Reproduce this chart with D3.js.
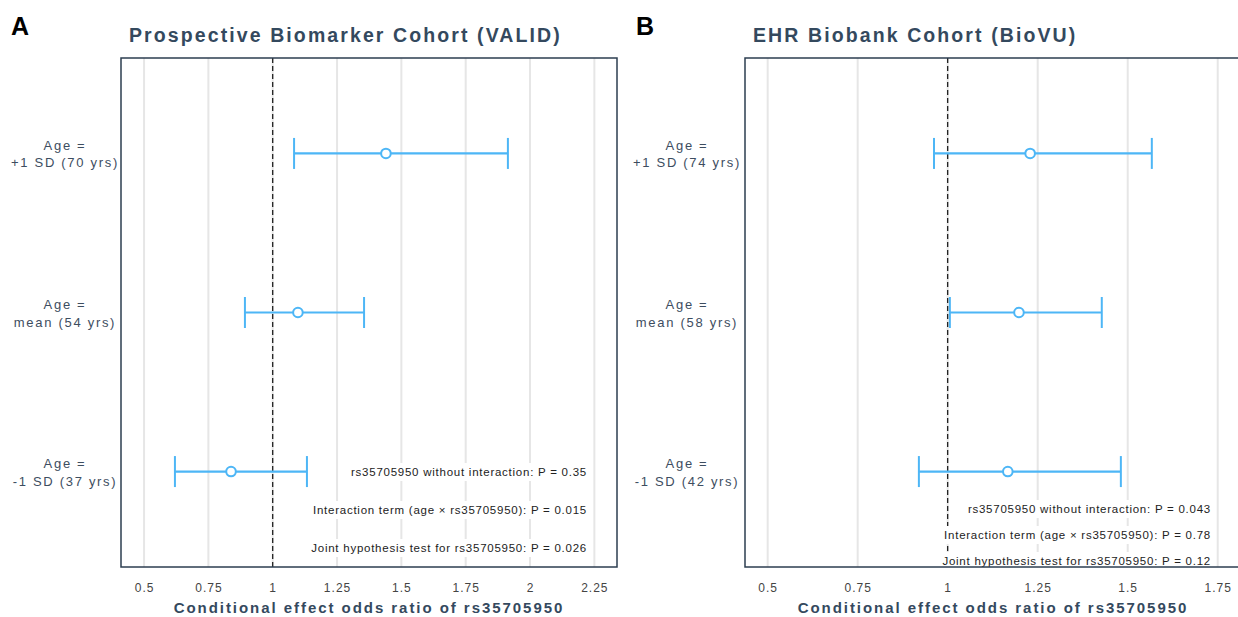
<!DOCTYPE html>
<html><head><meta charset="utf-8">
<script src="https://cdn.jsdelivr.net/npm/d3@7"></script>
<style>body{margin:0;background:#fff}svg{display:block}</style>
</head><body>
<svg id="c" width="1238" height="617"></svg>
<script>
const categories = ["+1 SD", "mean", "-1 SD"];
const rowLabelsA = ["+1 SD (70 yrs)", "mean (54 yrs)", "-1 SD (37 yrs)"];
const rowLabelsB = ["+1 SD (74 yrs)", "mean (58 yrs)", "-1 SD (42 yrs)"];
const orA = [1.440, 1.098, 0.838];
const loA = [1.083, 0.892, 0.620];
const hiA = [1.914, 1.355, 1.133];
const orB = [1.229, 1.198, 1.167];
const loB = [0.962, 1.006, 0.920];
const hiB = [1.567, 1.428, 1.481];
const ticksA = [0.5, 0.75, 1, 1.25, 1.5, 1.75, 2, 2.25];
const ticksB = [0.5, 0.75, 1, 1.25, 1.5, 1.75];
const notesA = ["rs35705950 without interaction: P = 0.35",
                "Interaction term  (age \u00d7 rs35705950): P = 0.015",
                "Joint hypothesis test for rs35705950: P = 0.026"];
const notesB = ["rs35705950 without interaction: P = 0.043",
                "Interaction term  (age \u00d7 rs35705950): P = 0.78",
                "Joint hypothesis test for rs35705950: P = 0.12"];
const titleA = "Prospective Biomarker Cohort (VALID)";
const titleB = "EHR Biobank Cohort (BioVU)";
const xTitle = "Conditional effect odds ratio of rs35705950";

const svg = d3.select("#c");
const FONT = "'Liberation Sans', Arial, sans-serif";
const BLUE = "#4db6f6";
const DARK = "#34495e";

function panel(cfg) {
  const g = svg.append("g");
  const x = d3.scaleLinear().domain(cfg.domain).range([cfg.left, cfg.right]);
  const y = d3.scalePoint().domain(categories).range([58, 567]).padding(0.6);
  const top = 58, bottom = 567;

  g.selectAll(".grid").data(cfg.ticks).join("line")
    .attr("x1", d => x(d)).attr("x2", d => x(d))
    .attr("y1", top).attr("y2", bottom)
    .attr("stroke", "#e6e6e6").attr("stroke-width", 2);

  g.append("line").attr("x1", x(1)).attr("x2", x(1)).attr("y1", top).attr("y2", bottom)
    .attr("stroke", "#111").attr("stroke-width", 1.2).attr("stroke-dasharray", "5,3");

  cfg.notes.forEach((t, i) => {
    const tg = g.append("g");
    const tx = tg.append("text").attr("x", cfg.noteX).attr("y", cfg.noteY[i])
      .attr("text-anchor", "end").attr("dominant-baseline", "central")
      .style("font-family", FONT).style("font-size", "11.5px").style("letter-spacing", "0.75px")
      .attr("fill", "#222").text(t);
    const bb = tx.node().getBBox();
    tg.insert("rect", "text").attr("x", bb.x - 3).attr("y", bb.y - 3)
      .attr("width", bb.width + 6).attr("height", bb.height + 6).attr("fill", "#fff");
  });

  const rows = categories.map((c, i) => ({c, or: cfg.or[i], lo: cfg.lo[i], hi: cfg.hi[i]}));
  g.selectAll(".bar").data(rows).join("line")
    .attr("x1", d => x(d.lo)).attr("x2", d => x(d.hi))
    .attr("y1", d => y(d.c)).attr("y2", d => y(d.c))
    .attr("stroke", BLUE).attr("stroke-width", 2.2);
  ["lo", "hi"].forEach(k => {
    g.selectAll(".cap" + k).data(rows).join("line")
      .attr("x1", d => x(d[k])).attr("x2", d => x(d[k]))
      .attr("y1", d => y(d.c) - 15.5).attr("y2", d => y(d.c) + 15.5)
      .attr("stroke", BLUE).attr("stroke-width", 2);
  });
  g.selectAll(".pt").data(rows).join("circle")
    .attr("cx", d => x(d.or)).attr("cy", d => y(d.c)).attr("r", 4.8)
    .attr("fill", "#fff").attr("stroke", BLUE).attr("stroke-width", 2);

  g.append("rect").attr("x", cfg.left).attr("y", top)
    .attr("width", cfg.right - cfg.left).attr("height", bottom - top)
    .attr("fill", "none").attr("stroke", "#2c3e50").attr("stroke-width", 1.5);

  const ax = g.append("g").attr("transform", `translate(0,${bottom})`)
    .call(d3.axisBottom(x).tickValues(cfg.ticks).tickSize(0).tickPadding(16).tickFormat(d3.format("")));
  ax.select(".domain").remove();
  ax.selectAll("text").style("font-family", FONT).style("font-size", "12px")
    .style("letter-spacing", "1px").attr("fill", "#444");

  rows.forEach((d, i) => {
    const t = g.append("text").attr("text-anchor", "middle")
      .style("font-family", FONT).style("font-size", "13px").style("letter-spacing", "1.7px")
      .attr("fill", "#3d4d60");
    t.append("tspan").attr("x", cfg.ylabX).attr("y", y(d.c) - 3.5).text("Age =");
    t.append("tspan").attr("x", cfg.ylabX).attr("y", y(d.c) + 14).text(cfg.rowLabels[i]);
  });

  g.append("text").attr("x", (cfg.left + cfg.right) / 2).attr("y", 613)
    .attr("text-anchor", "middle").style("font-family", FONT).style("font-size", "15px")
    .style("font-weight", "bold").style("letter-spacing", "1.95px").attr("fill", DARK).text(xTitle);

  g.append("text").attr("x", cfg.left + 8).attr("y", 42)
    .style("font-family", FONT).style("font-size", "19.5px").style("font-weight", "bold")
    .style("letter-spacing", "2.1px").attr("fill", DARK).text(cfg.title);

  g.append("text").attr("x", cfg.letterX).attr("y", 35)
    .style("font-family", FONT).style("font-size", "25px").style("font-weight", "bold")
    .attr("fill", "#000").text(cfg.letter);
}

panel({domain: [0.4104, 2.338], left: 121, right: 617, ticks: ticksA,
  or: orA, lo: loA, hi: hiA, rowLabels: rowLabelsA, notes: notesA,
  noteX: 587, noteY: [472, 510, 548], ylabX: 65, title: titleA, letter: "A", letterX: 11});
panel({domain: [0.437, 1.8147], left: 745, right: 1241, ticks: ticksB,
  or: orB, lo: loB, hi: hiB, rowLabels: rowLabelsB, notes: notesB,
  noteX: 1211, noteY: [509, 535, 561], ylabX: 687, title: titleB, letter: "B", letterX: 636});
</script>
</body></html>
